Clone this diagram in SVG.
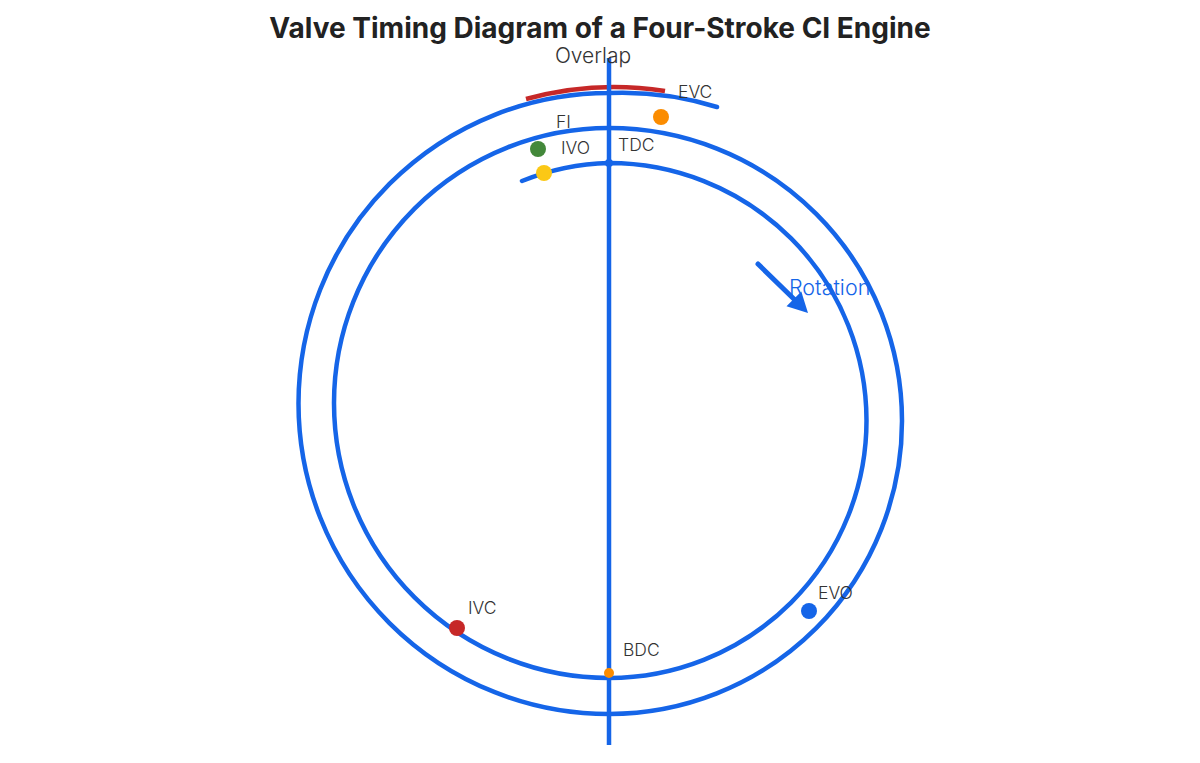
<svg xmlns="http://www.w3.org/2000/svg" width="1200" height="763" viewBox="0 0 1200 763">
<style>
.ln{fill:none;stroke:#1565e8;stroke-width:4.5;stroke-linecap:round}
.lbl{font-family:Inter,"Liberation Sans",sans-serif;font-size:17.5px;fill:#333;font-weight:300}
</style>
<rect width="1200" height="763" fill="#fff"/>
<text x="600" y="38" text-anchor="middle" font-family="Inter,'Liberation Sans',sans-serif" font-weight="700" font-size="28" fill="#222">Valve Timing Diagram of a Four-Stroke CI Engine</text>
<g id="connectors">
<path id="spiral" class="ln" d="M522 181 A250 250 0 0 1 609 163 A257.5 257.5 0 0 1 609 678 A275 275 0 0 1 609 128 A293 293 0 0 1 609 714 A310.5 310.5 0 0 1 609 93 A320 320 0 0 1 717 107"/>
<path id="overlap-arc" d="M526 99 A330 330 0 0 1 665 91" fill="none" stroke="#c62828" stroke-width="4.5"/>
<line id="axis" x1="609" y1="58" x2="609" y2="745" stroke="#1565e8" stroke-width="4.5"/>
<g id="rotation-arrow">
<line x1="758" y1="264" x2="797" y2="302" stroke="#1565e8" stroke-width="5" stroke-linecap="round"/>
<polygon points="808,313 786.5,306.3 801.3,291.5" fill="#1565e8"/>
</g>
</g>
<g id="overlap"><text x="593" y="63" text-anchor="middle" class="lbl" style="font-size:21px">Overlap</text></g>
<g id="tdc"><circle cx="609" cy="163" r="4" fill="#1565e8"/><text x="618" y="151" class="lbl">TDC</text></g>
<g id="bdc"><circle cx="609" cy="673" r="5" fill="#fb8c00"/><text x="623" y="656" class="lbl">BDC</text></g>
<g id="evc"><circle cx="661" cy="117" r="8" fill="#fb8c00"/><text x="678" y="98" class="lbl">EVC</text></g>
<g id="fi"><circle cx="538" cy="149" r="8" fill="#43883a"/><text x="556" y="128" class="lbl">FI</text></g>
<g id="ivo"><circle cx="544" cy="173" r="8" fill="#fbc816"/><text x="561" y="154" class="lbl">IVO</text></g>
<g id="ivc"><circle cx="457" cy="628" r="8" fill="#c62828"/><text x="468" y="614" class="lbl">IVC</text></g>
<g id="evo"><circle cx="809" cy="611" r="8" fill="#1565e8"/><text x="818" y="599" class="lbl">EVO</text></g>
<g id="rotation"><text x="789" y="295" class="lbl" style="font-size:21.5px;fill:#1565e8">Rotation</text></g>
</svg>
